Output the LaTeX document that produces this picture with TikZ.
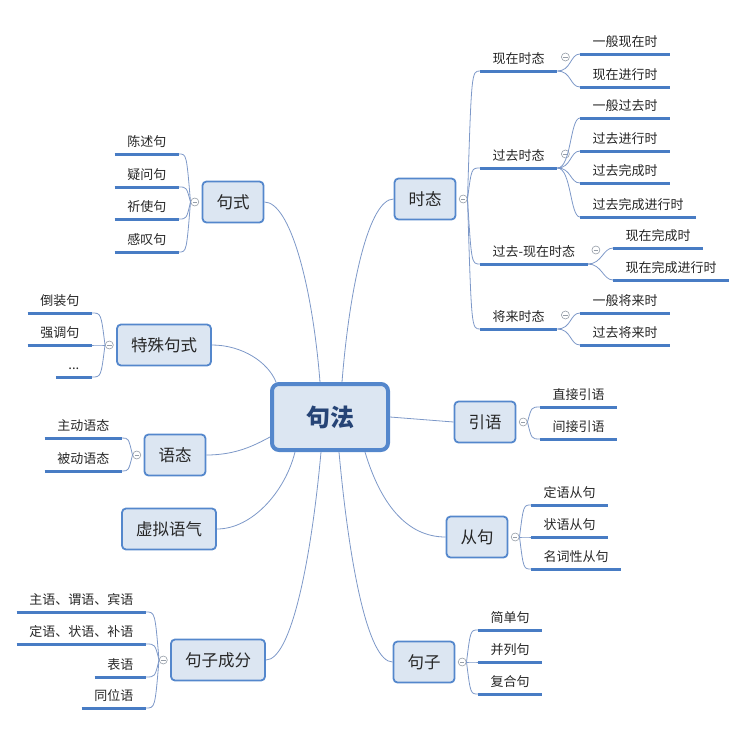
\documentclass[tikz,border=0pt]{standalone}
\usepackage{fontspec}
\setmainfont{Noto Sans CJK SC}
\usetikzlibrary{positioning,calc}
\definecolor{topicline}{RGB}{84,135,204}
\definecolor{topicfill}{RGB}{220,230,242}
\definecolor{ulblue}{RGB}{72,124,196}
\definecolor{linkblue}{RGB}{125,152,200}
\definecolor{rootblue}{RGB}{38,68,118}
\definecolor{foldgray}{RGB}{150,158,168}

\begin{document}
\begin{tikzpicture}[x=1pt,y=-1pt,
  root/.style={draw=topicline,line width=4pt,fill=topicfill,rounded corners=7pt,minimum width=116pt,minimum height=66pt,font=\fontsize{24}{26}\selectfont\bfseries,text=rootblue},
  topic/.style={draw=topicline,line width=1.8pt,fill=topicfill,rounded corners=4pt,minimum height=41pt,inner xsep=14pt,font=\fontsize{16.5}{18}\selectfont,text=black!85},
  leaf/.style={inner xsep=12.5pt,inner ysep=6.5pt,text height=10pt,text depth=1pt,font=\fontsize{13}{15}\selectfont,text=black!85},
  uline/.style={ulblue,line width=3pt},
  link/.style={linkblue,line width=0.8pt},
  fold/.style={circle,draw=foldgray,fill=white,line width=0.6pt,inner sep=0pt,minimum size=8pt,
    path picture={\draw[foldgray,line width=0.6pt] ([xshift=-2.2pt]path picture bounding box.center) -- ([xshift=2.2pt]path picture bounding box.center);}}]
    \useasboundingbox (0,0) rectangle (750,750);

    \node[root] (syn) at (330,417) {句法};
    \node[topic] (tense) at (425,199) {时态};
    \node[topic] (form) at (233,202) {句式};
    \node[topic] (spec) at (164,345) {特殊句式};
    \node[topic] (voice) at (175,455) {语态};
    \node[topic] (subj) at (169,529) {虚拟语气};
    \node[topic] (parts) at (218,660) {句子成分};
    \node[topic] (quote) at (485,422) {引语};
    \node[topic] (clause) at (477,537) {从句};
    \node[topic] (sent) at (424,662) {句子};

    \draw[link] ([xshift=12pt]syn.north) .. controls +(8,-100) and +(-24,0) .. (tense.west);
    \draw[link] ([xshift=-10pt]syn.north) .. controls +(-8,-100) and +(25,0) .. (form.east);
    \draw[link] ([xshift=-54pt]syn.north) .. controls +(-8,-20) and +(30,0) .. (spec.east);
    \draw[link] ([yshift=-20pt]syn.west) .. controls +(-15,8) and +(30,0) .. (voice.east);
    \draw[link] (syn.east) -- (quote.west);
    \draw[link] ([xshift=-35pt]syn.south) .. controls +(-10,40) and +(35,0) .. (subj.east);
    \draw[link] ([xshift=-9pt]syn.south) .. controls +(-10,110) and +(25,0) .. (parts.east);
    \draw[link] ([xshift=9pt]syn.south) .. controls +(10,110) and +(-25,0) .. (sent.west);
    \draw[link] ([xshift=35pt]syn.south) .. controls +(15,50) and +(-40,0) .. (clause.west);

    \node[fold,right=2.5pt of tense] (cTense) {};
    \node[fold,left=2.5pt of form] (cForm) {};
    \node[fold,left=2.5pt of spec] (cSpec) {};
    \node[fold,left=2.5pt of voice] (cVoice) {};
    \node[fold,left=2.5pt of parts] (cParts) {};
    \node[fold,right=2.5pt of quote] (cQuote) {};
    \node[fold,right=2.5pt of clause] (cClause) {};
    \node[fold,right=2.5pt of sent] (cSent) {};

    \node[leaf,anchor=south west] (t1) at (480,71) {现在时态};
    \node[leaf,anchor=south west] (t2) at (480,168) {过去时态};
    \node[leaf,anchor=south west] (t3) at (480,264) {过去-现在时态};
    \node[leaf,anchor=south west] (t4) at (480,329) {将来时态};

    \node[leaf,anchor=south west] (a1) at (580,54) {一般现在时};
    \node[leaf,anchor=south west] (a2) at (580,87) {现在进行时};
    \node[leaf,anchor=south west] (b1) at (580,118) {一般过去时};
    \node[leaf,anchor=south west] (b2) at (580,151) {过去进行时};
    \node[leaf,anchor=south west] (b3) at (580,183) {过去完成时};
    \node[leaf,anchor=south west] (b4) at (580,217) {过去完成进行时};
    \node[leaf,anchor=south west] (d1) at (613,248) {现在完成时};
    \node[leaf,anchor=south west] (d2) at (613,280) {现在完成进行时};
    \node[leaf,anchor=south west] (e1) at (580,313) {一般将来时};
    \node[leaf,anchor=south west] (e2) at (580,345) {过去将来时};

    \node[leaf,anchor=south west] (q1) at (540,407) {直接引语};
    \node[leaf,anchor=south west] (q2) at (540,439) {间接引语};
    \node[leaf,anchor=south west] (c1) at (531,505) {定语从句};
    \node[leaf,anchor=south west] (c2) at (531,537) {状语从句};
    \node[leaf,anchor=south west] (c3) at (531,569) {名词性从句};
    \node[leaf,anchor=south west] (k1) at (478,630) {简单句};
    \node[leaf,anchor=south west] (k2) at (478,662) {并列句};
    \node[leaf,anchor=south west] (k3) at (478,694) {复合句};

    \node[leaf,anchor=south east] (f1) at (179,154) {陈述句};
    \node[leaf,anchor=south east] (f2) at (179,187) {疑问句};
    \node[leaf,anchor=south east] (f3) at (179,219) {祈使句};
    \node[leaf,anchor=south east] (f4) at (179,252) {感叹句};
    \node[leaf,anchor=south east] (s1) at (92,313) {倒装句};
    \node[leaf,anchor=south east] (s2) at (92,345) {强调句};
    \node[leaf,anchor=south east] (s3) at (92,377) {...};
    \node[leaf,anchor=south east] (v1) at (122,438) {主动语态};
    \node[leaf,anchor=south east] (v2) at (122,471) {被动语态};
    \node[leaf,anchor=south east] (p1) at (146,612) {主语、谓语、宾语};
    \node[leaf,anchor=south east] (p2) at (146,644) {定语、状语、补语};
    \node[leaf,anchor=south east] (p3) at (146,677) {表语};
    \node[leaf,anchor=south east] (p4) at (146,708) {同位语};

    \foreach \t/\c in {t1/cNow,t2/cPast,t3/cPerf,t4/cFut}
        \node[fold] (\c) at ($(\t.south east)+(8,-14)$) {};

    \foreach \n in {t1,t2,t3,t4}
        \draw[link] (cTense.east) .. controls ($(cTense.east |- \n.south west)+(4,0)$) .. (\n.south west);
    \foreach \n in {q1,q2}
        \draw[link] (cQuote.east) .. controls ($(cQuote.east |- \n.south west)+(4,0)$) .. (\n.south west);
    \foreach \n in {c1,c2,c3}
        \draw[link] (cClause.east) .. controls ($(cClause.east |- \n.south west)+(4,0)$) .. (\n.south west);
    \foreach \n in {k1,k2,k3}
        \draw[link] (cSent.east) .. controls ($(cSent.east |- \n.south west)+(4,0)$) .. (\n.south west);
    \foreach \n in {f1,f2,f3,f4}
        \draw[link] (cForm.west) .. controls ($(cForm.west |- \n.south east)+(-4,0)$) .. (\n.south east);
    \foreach \n in {s1,s2,s3}
        \draw[link] (cSpec.west) .. controls ($(cSpec.west |- \n.south east)+(-4,0)$) .. (\n.south east);
    \foreach \n in {v1,v2}
        \draw[link] (cVoice.west) .. controls ($(cVoice.west |- \n.south east)+(-4,0)$) .. (\n.south east);
    \foreach \n in {p1,p2,p3,p4}
        \draw[link] (cParts.west) .. controls ($(cParts.west |- \n.south east)+(-4,0)$) .. (\n.south east);
    \foreach \t/\n in {t1/a1,t1/a2,t2/b1,t2/b2,t2/b3,t2/b4,t3/d1,t3/d2,t4/e1,t4/e2}
        \draw[link] (\t.south east) .. controls +(14,0) and +(-10,0) .. (\n.south west);

    \foreach \n in {t1,t2,t3,t4,a1,a2,b1,b2,b3,b4,d1,d2,e1,e2,q1,q2,c1,c2,c3,k1,k2,k3,f1,f2,f3,f4,s1,s2,s3,v1,v2,p1,p2,p3,p4}
        \draw[uline] (\n.south west) -- (\n.south east);
\end{tikzpicture}
\end{document}
